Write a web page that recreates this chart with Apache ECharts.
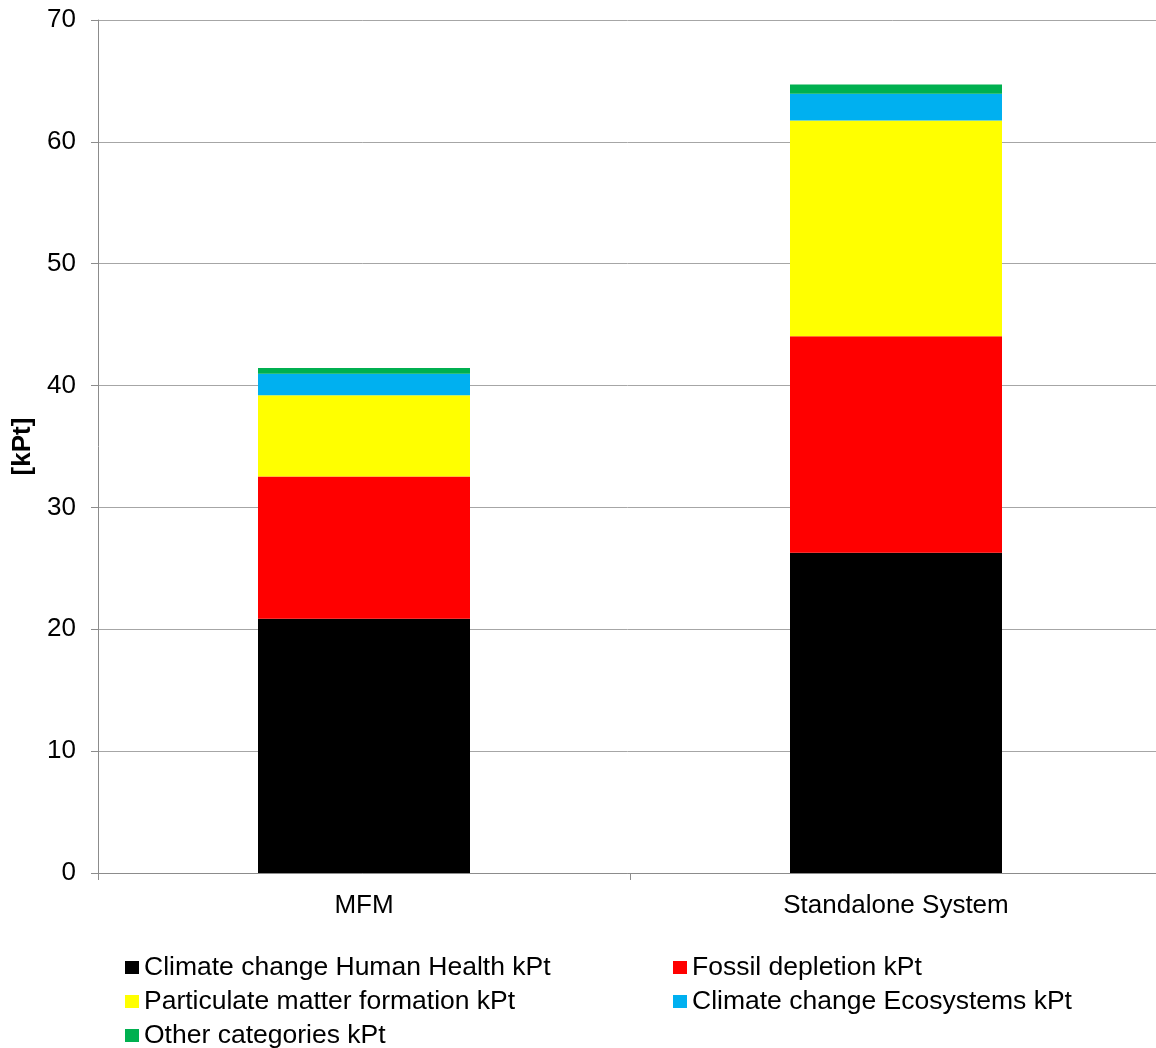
<!DOCTYPE html>
<html>
<head>
<meta charset="utf-8">
<script src="https://cdn.jsdelivr.net/npm/echarts@6/dist/echarts.min.js"></script>
<style>
  html, body { margin: 0; padding: 0; background: #ffffff; }
  #chart { width: 1156px; height: 1048px; }
</style>
</head>
<body>
<div id="chart"></div>
<script>
// Systems compared
const categories = ['MFM', 'Standalone System'];

// Impact contributions per system, in kPt
const climateHumanHealth = [20.86, 26.28];
const fossilDepletion = [11.68, 17.77];
const particulateMatter = [6.67, 17.70];
const climateEcosystems = [1.75, 2.19];
const otherCategories = [0.49, 0.77];

const seriesNames = [
  'Climate change Human Health kPt',
  'Fossil depletion kPt',
  'Particulate matter formation kPt',
  'Climate change Ecosystems kPt',
  'Other categories kPt'
];
const seriesColors = ['#000000', '#FF0000', '#FFFF00', '#00B0F0', '#00B050'];
const seriesValues = [climateHumanHealth, fossilDepletion, particulateMatter, climateEcosystems, otherCategories];

const FONT = '"Liberation Sans", Arial, sans-serif';

const chart = echarts.init(document.getElementById('chart'), null, { renderer: 'canvas' });

const legendText = { fontFamily: FONT, fontSize: 26.5, color: '#000000', lineHeight: 26 };

// Two legend columns, laid out as fixed vertical lists
const legendBase = {
  orient: 'vertical',
  top: 954,
  height: 100,
  padding: 0,
  icon: 'rect',
  itemWidth: 14,
  itemHeight: 13,
  itemGap: 7,
  textStyle: legendText
};

chart.setOption({
  animation: false,
  backgroundColor: '#ffffff',
  // plot area runs slightly past the right edge of the canvas
  grid: { left: 98, width: 1064, top: 20, bottom: 175, containLabel: false, outerBoundsMode: 'none' },
  legend: [
    Object.assign({}, legendBase, { left: 125, data: [seriesNames[0], seriesNames[2], seriesNames[4]] }),
    Object.assign({}, legendBase, { left: 673, data: [seriesNames[1], seriesNames[3]] })
  ],
  xAxis: {
    type: 'category',
    data: categories,
    boundaryGap: true,
    axisLine: { show: true, lineStyle: { color: '#8c8c8c', width: 1 } },
    axisTick: { show: true, alignWithLabel: false, length: 7, lineStyle: { color: '#8c8c8c' } },
    axisLabel: { margin: 20, fontFamily: FONT, fontSize: 26, color: '#000000' },
    splitLine: { show: false }
  },
  yAxis: {
    type: 'value',
    min: 0,
    max: 70,
    interval: 10,
    name: '[kPt]',
    nameLocation: 'middle',
    nameGap: 58,
    nameRotate: 90,
    nameTextStyle: { fontFamily: FONT, fontSize: 26, fontWeight: 'bold', color: '#000000' },
    axisLine: { show: true, lineStyle: { color: '#8c8c8c', width: 1 } },
    axisTick: { show: true, inside: false, length: 7, lineStyle: { color: '#8c8c8c' } },
    axisLabel: { margin: 22, fontFamily: FONT, fontSize: 26, color: '#000000' },
    splitLine: { show: true, lineStyle: { color: '#a6a6a6', width: 1 } }
  },
  series: seriesNames.map((name, i) => ({
    name: name,
    type: 'bar',
    stack: 'total',
    barWidth: 212,
    data: seriesValues[i],
    itemStyle: { color: seriesColors[i] },
    emphasis: { disabled: true }
  }))
});
</script>
</body>
</html>
